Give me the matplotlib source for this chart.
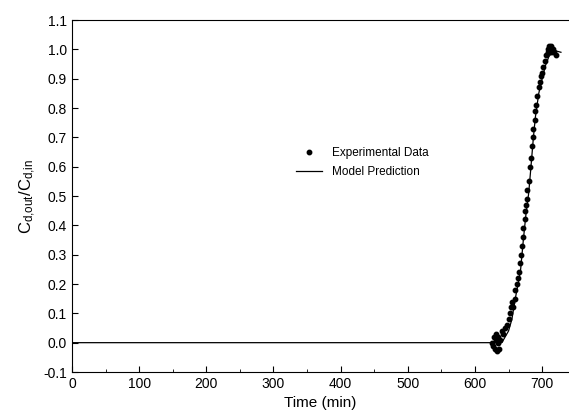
import matplotlib
matplotlib.use('Agg')
import matplotlib.pyplot as plt
from matplotlib.ticker import MultipleLocator, FormatStrFormatter

plt.rcParams['font.family'] = ['Liberation Sans', 'DejaVu Sans']
plt.rcParams['mathtext.fontset'] = 'custom'
plt.rcParams['mathtext.rm'] = 'Liberation Sans'
plt.rcParams['mathtext.it'] = 'Liberation Sans:italic'

t_exp = [625, 627, 628, 630, 631, 632, 633, 634, 635, 636, 638, 640, 642, 645,
         648, 650, 652, 654, 655, 657, 659, 660, 662, 664, 665, 667, 668, 670,
         671, 672, 674, 675, 676, 677, 678, 680, 682, 683, 685, 686, 687, 689,
         690, 691, 693, 695, 697, 698, 700, 702, 704, 706, 708, 709, 710, 711,
         712, 713, 714, 716, 718, 720]
c_exp = [0.0, -0.01, 0.02, -0.02, 0.01, 0.03, -0.03, 0.0, 0.02, -0.02, 0.01,
         0.04, 0.03, 0.05, 0.06, 0.08, 0.10, 0.12, 0.14, 0.12, 0.15, 0.18, 0.20,
         0.22, 0.24, 0.27, 0.30, 0.33, 0.36, 0.39, 0.42, 0.45, 0.47, 0.49, 0.52,
         0.55, 0.60, 0.63, 0.67, 0.70, 0.73, 0.76, 0.79, 0.81, 0.84, 0.87, 0.89,
         0.91, 0.92, 0.94, 0.96, 0.98, 0.99, 1.00, 1.01, 0.99, 1.00, 1.01, 0.99,
         1.00, 0.99, 0.98]

# Model prediction
t_mod = [0, 630, 640, 645, 650, 655, 660, 665, 668, 672, 676, 680, 683, 687,
         690, 695, 700, 705, 710, 715, 720, 728]
c_mod = [0.0, 0.0, 0.0, 0.02, 0.04, 0.08, 0.15, 0.21, 0.25, 0.35, 0.44, 0.51,
         0.59, 0.70, 0.77, 0.85, 0.90, 0.945, 0.975, 0.99, 0.995, 0.99]

fig = plt.figure(figsize=(5.69, 4.15), dpi=100)
ax = fig.add_axes([0.1265, 0.1036, 0.8735, 0.8482])

ax.plot(t_exp, c_exp, 'o', color='black', markersize=3.2, label='Experimental Data')
ax.plot(t_mod, c_mod, '-', color='black', lw=0.9, label='Model Prediction')

ax.set_xlim(0, 740)
ax.set_ylim(-0.1, 1.1)
ax.xaxis.set_major_locator(MultipleLocator(100))
ax.xaxis.set_minor_locator(MultipleLocator(50))
ax.yaxis.set_major_locator(MultipleLocator(0.1))
ax.yaxis.set_major_formatter(FormatStrFormatter('%.1f'))
ax.tick_params(which='both', direction='in', labelsize=10)
ax.tick_params(which='major', length=4)
ax.tick_params(which='minor', length=2)
ax.spines['right'].set_visible(False)
for s in ['top', 'left', 'bottom']:
    ax.spines[s].set_linewidth(0.8)

ax.set_xlabel('Time (min)', fontsize=11)
ax.set_ylabel(r'C$_{\mathrm{d{,}out}}$/C$_{\mathrm{d{,}in}}$', fontsize=12)

ax.legend(loc='upper left', bbox_to_anchor=(0.43, 0.67), frameon=False,
          fontsize=8.5, handlelength=2.2, handletextpad=0.8, labelspacing=0.6)

fig.savefig('out.png', dpi=100)
